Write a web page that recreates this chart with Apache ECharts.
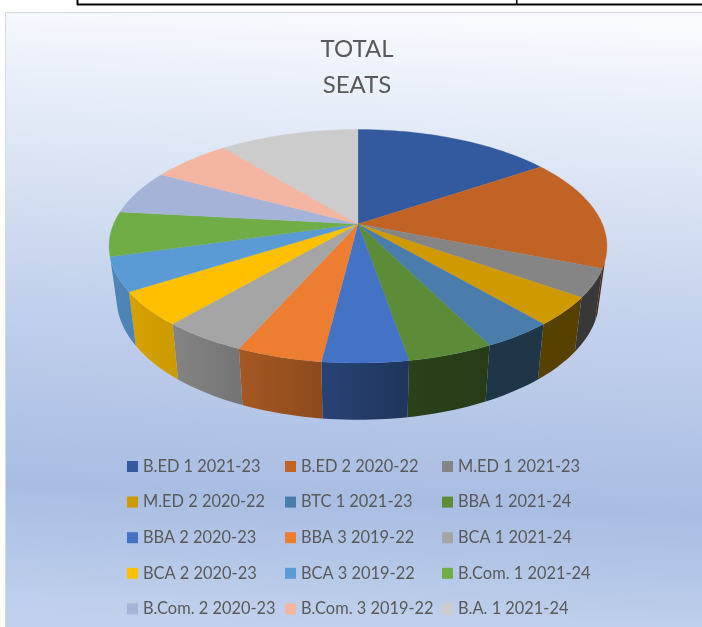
<!DOCTYPE html>
<html>
<head>
<meta charset="utf-8">
<style>html,body{margin:0;padding:0;background:#fff}#c{width:702px;height:627px}</style>
<script src="https://cdn.jsdelivr.net/npm/echarts@6/dist/echarts.min.js"></script>
</head>
<body>
<div id="c"></div>
<script>
const categories = ["B.ED 1 2021-23","B.ED 2 2020-22","M.ED 1 2021-23","M.ED 2 2020-22","BTC 1 2021-23","BBA 1 2021-24","BBA 2 2020-23","BBA 3 2019-22","BCA 1 2021-24","BCA 2 2020-23","BCA 3 2019-22","B.Com. 1 2021-24","B.Com. 2 2020-23","B.Com. 3 2019-22","B.A. 1 2021-24"];
const seats = [100,100,25,25,25,30,30,30,30,30,30,40,40,40,70];
const colors = ["#335a9e","#c16325","#858585","#cf9a00","#4a7dab","#5c8c38","#4472c4","#ed7d31","#a5a5a5","#ffc000","#5b9bd5","#70ad47","#a5b3d8","#f4b6a0","#cccccc"];
const legendColumns = [
  ["B.ED 1 2021-23","M.ED 2 2020-22","BBA 2 2020-23","BCA 2 2020-23","B.Com. 2 2020-23"],
  ["B.ED 2 2020-22","BTC 1 2021-23","BBA 3 2019-22","BCA 3 2019-22","B.Com. 3 2019-22"],
  ["M.ED 1 2021-23","BBA 1 2021-24","BCA 1 2021-24","B.Com. 1 2021-24","B.A. 1 2021-24"]
];
const title = "TOTAL\nSEATS";

// camera of the tilted disc
const view = {cx:358, cy:224, a:244.4, b:112.5, k:0.1905, shrink:0.97, depthBase:50, depthFront:11, wallFrom:108, wallTo:253.8};
// wall brightness by angle clockwise from twelve o'clock
const shadeStops = [[108,.42],[160,.42],[170,.46],[187,.59],[203.5,.70],[220,.80],[237,.84],[254,.87]];

function project(deg, bottom){
  const t = deg*Math.PI/180, u = Math.sin(t), v = -Math.cos(t), w = 1 - view.k*v;
  const dx = view.a*u/w, dy = view.b*v/w;
  if(!bottom) return [view.cx+dx, view.cy+dy];
  return [view.cx+dx*view.shrink, view.cy+dy*view.shrink+view.depthBase+view.depthFront*v];
}
function arc(from,to,bottom){
  const n = Math.max(2,Math.ceil(Math.abs(to-from)/1.5)), pts=[];
  for(let i=0;i<=n;i++) pts.push(project(from+(to-from)*i/n,bottom));
  return pts;
}
function shade(deg){
  for(let i=1;i<shadeStops.length;i++){
    const p=shadeStops[i-1], q=shadeStops[i];
    if(deg<=q[0]) return p[1]+(q[1]-p[1])*(deg-p[0])/(q[0]-p[0]);
  }
  return shadeStops[shadeStops.length-1][1];
}
function dim(hex,f){
  const n=parseInt(hex.slice(1),16);
  return 'rgb('+[(n>>16)&255,(n>>8)&255,n&255].map(c=>Math.round(c*f)).join(',')+')';
}

const total = seats.reduce((s,v)=>s+v,0);
let running = 0;
const series = categories.map((name,i)=>{
  const start = running/total*360; running += seats[i];
  const end = running/total*360;
  return {
    type:'custom', name, coordinateSystem:'none', silent:true,
    itemStyle:{color:colors[i]},
    data:[[seats[i]]],
    renderItem(){
      const children=[];
      const a=Math.max(start,view.wallFrom), b=Math.min(end,view.wallTo);
      if(b>a){
        const pts=arc(a,b,false).concat(arc(b,a,true));
        children.push({type:'polygon',z2:1,shape:{points:pts},style:{
          fill:new echarts.graphic.LinearGradient(0,0,1,0,[
            {offset:0,color:dim(colors[i],shade(b))},
            {offset:1,color:dim(colors[i],shade(a))}
          ]),lineWidth:0}});
      }
      children.push({type:'polygon',z2:2,shape:{points:[[view.cx,view.cy]].concat(arc(start,end,false))},
        style:{fill:colors[i],stroke:colors[i],lineWidth:0.3}});
      return {type:'group',children};
    }
  };
});

const legends = legendColumns.map((data,i)=>({
  data, orient:'vertical', left:[127,285,442][i], top:458.5, padding:0,
  icon:'rect', itemWidth:11, itemHeight:11, itemGap:19.6, selectedMode:false,
  textStyle:{color:'#595959',fontFamily:'Lato',fontSize:16.4,height:16,lineHeight:16}
}));

const chart = echarts.init(document.getElementById('c'),null,{renderer:'canvas'});
chart.setOption({
  animation:false,
  backgroundColor:'#ffffff',
  title:{text:title,left:352,top:26,textAlign:'center',
    textStyle:{color:'#595959',fontFamily:'Lato',fontWeight:400,fontSize:24,lineHeight:36.5}},
  legend:legends,
  series,
  graphic:[
    {type:'rect',z:-10,silent:true,shape:{x:5.5,y:12.5,width:697,height:615},
      style:{stroke:'#d9d9d9',lineWidth:1,fill:new echarts.graphic.LinearGradient(0.52,0,0.48,1,[
        {offset:0,color:'#f8fafe'},{offset:0.16,color:'#e6edf8'},{offset:0.47,color:'#c4d2ec'},
        {offset:0.79,color:'#a9bde3'},{offset:1,color:'#c1d1ec'}])}},
    {type:'rect',z:-9,silent:true,shape:{x:77,y:3.5,width:625,height:2},style:{fill:'#000'}},
    {type:'rect',z:-9,silent:true,shape:{x:76.5,y:0,width:2,height:5},style:{fill:'#000'}},
    {type:'rect',z:-9,silent:true,shape:{x:516,y:0,width:1.5,height:5},style:{fill:'#000'}}
  ]
});
</script>
</body>
</html>
